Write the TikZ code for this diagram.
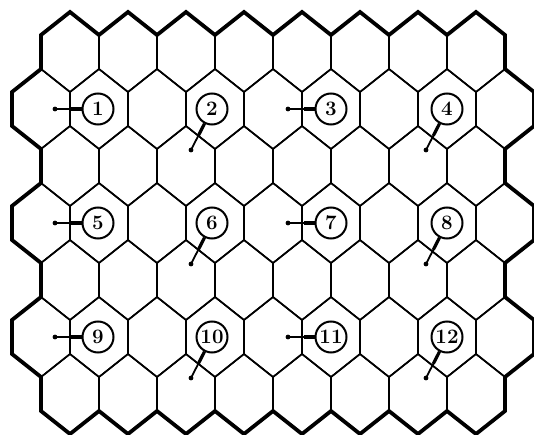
\documentclass[tikz,border=0pt]{standalone}
\usepackage{fontspec}
\usepackage{tikz}
\tikzset{
  cell/.style={line width=1.6pt, line join=miter},
  rim/.style={line width=3.8pt, line join=miter},
  badge/.style={circle, draw, line width=2pt, minimum size=31pt, inner sep=0pt,
    font=\bfseries\fontsize{20.5}{20.5}\selectfont},
  lead/.style={line width=1.8pt},
  leadroot/.style={line width=3.2pt, shorten <=16pt}
}
\begin{document}
\begin{tikzpicture}[x=1pt,y=-1pt]
\useasboundingbox (0,0) rectangle (534,435);
% honeycomb: rows of cells, odd rows shifted half a cell
\foreach \r/\xs/\n in {0/70/7,1/41/8,2/70/7,3/41/8,4/70/7,5/41/8,6/70/7}{
  \foreach \k in {0,...,\n}{
    \pgfmathsetmacro\cx{\xs+58*\k} \pgfmathsetmacro\cy{52+57*\r}
    \draw[cell] (\cx,\cy-40) -- ++(29,23) -- ++(0,34) -- ++(-29,23) -- ++(-29,-23) -- ++(0,-34) -- cycle;
  }
}
% heavy outline round the whole field
\draw[rim] (12,126) -- (12,92) -- (41,69) -- (41,35)
  \foreach \k in {0,...,7}{ -- ++(29,-23) -- ++(29,23) }
  -- (505,69) -- (534,92) -- (534,126) -- (505,149) -- (505,183) -- (534,206) -- (534,240)
  -- (505,263) -- (505,297) -- (534,320) -- (534,354) -- (505,377) -- (505,411)
  \foreach \k in {0,...,7}{ -- ++(-29,23) -- ++(-29,-23) }
  -- (41,377) -- (12,354) -- (12,320) -- (41,297) -- (41,263) -- (12,240) -- (12,206)
  -- (41,183) -- (41,149) -- cycle;
% numbered cells, odd ones point left
\foreach \i/\x/\y in {1/98/109,3/331/109,5/98/223,7/331/223,9/98/337,11/331/337}{
  \node[badge] (b\i) at (\x,\y) {\i};
  \coordinate (t\i) at (\x-43,\y);
  \draw[lead] (t\i) -- (b\i); \draw[leadroot] (t\i) -- (b\i);
  \fill (t\i) circle (2.4);
}
% even ones point down and left
\foreach \i/\x/\y in {2/212/109,4/447/109,6/212/223,8/447/223,10/212/337,12/447/337}{
  \node[badge] (b\i) at (\x,\y) {\i};
  \coordinate (t\i) at (\x-21,\y+41);
  \draw[lead] (t\i) -- (b\i); \draw[leadroot] (t\i) -- (b\i);
  \fill (t\i) circle (2.4);
}
\end{tikzpicture}
\end{document}
